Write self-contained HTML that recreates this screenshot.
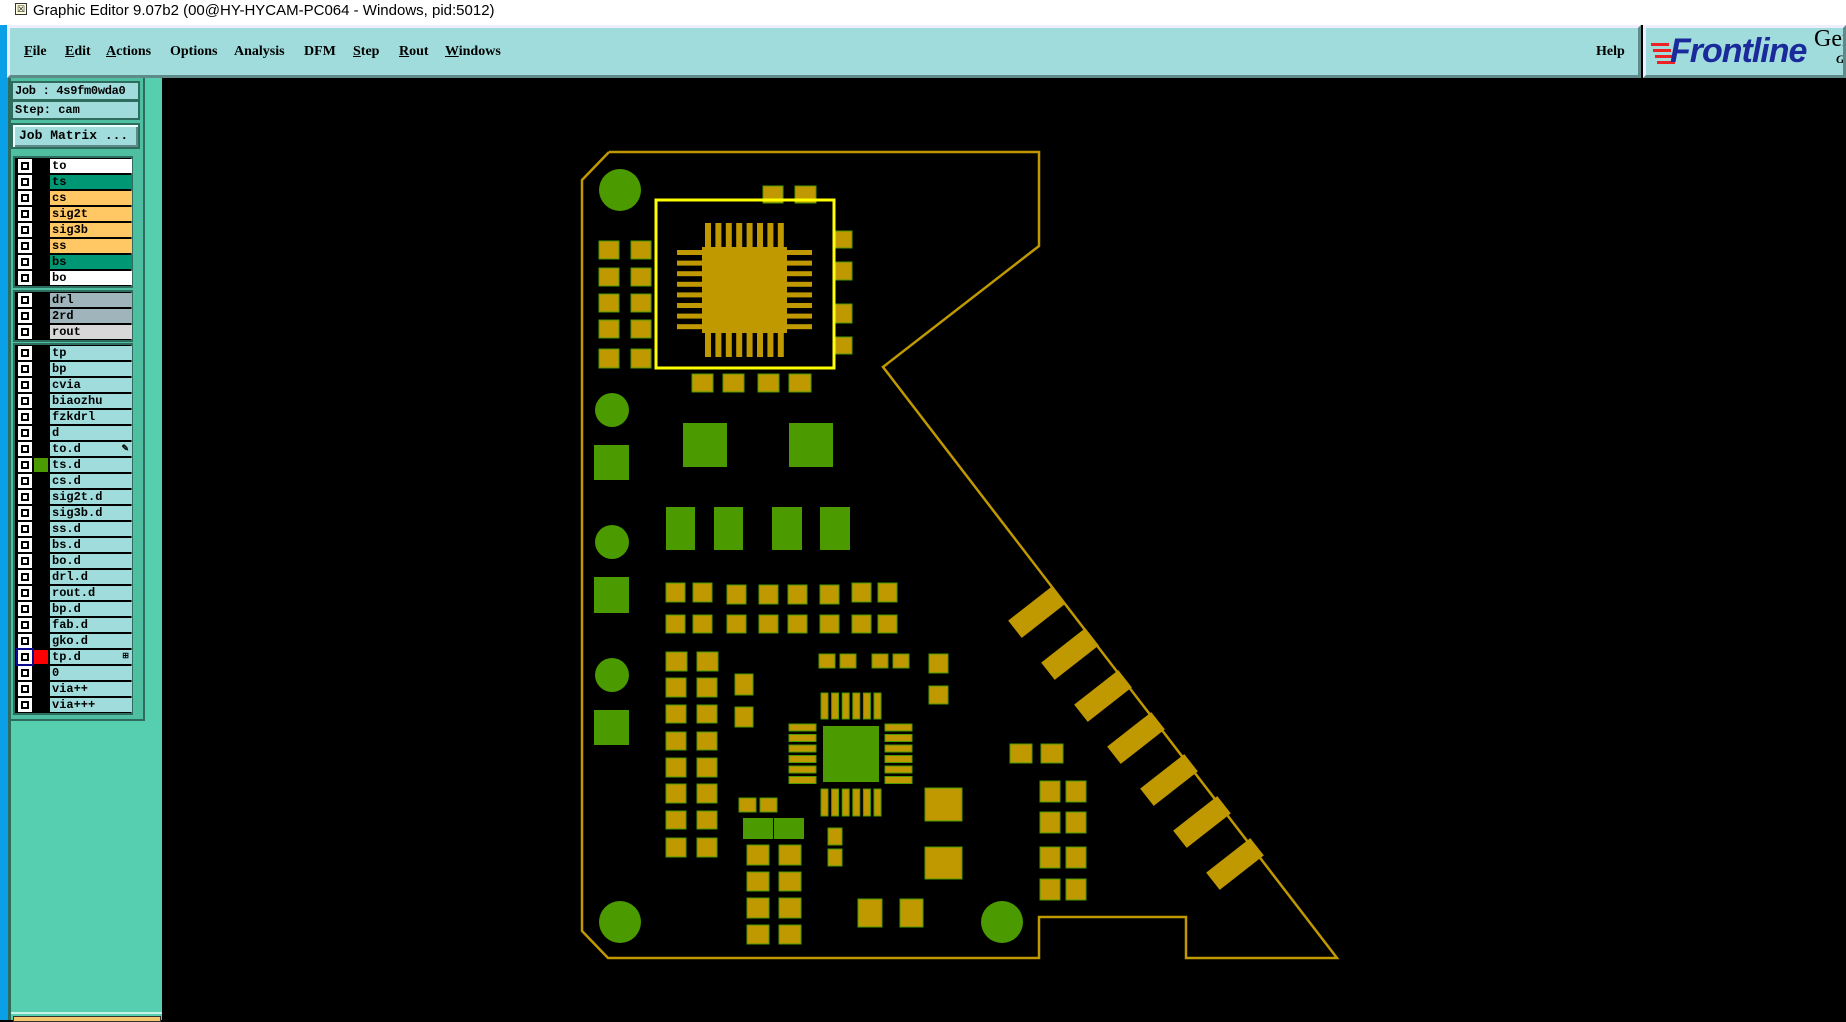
<!DOCTYPE html>
<html><head><meta charset="utf-8"><style>
*{margin:0;padding:0;box-sizing:border-box}
body{width:1846px;height:1020px;overflow:hidden;background:#000;position:relative;font-family:"Liberation Sans",sans-serif}
.abs{position:absolute}
#title{left:0;top:0;width:1846px;height:25px;background:#fff}
#title span{position:absolute;left:33px;top:2px;font-size:15px;color:#000}
#menu{left:7px;top:25px;width:1634px;height:53px;background:#a0dcdc;border:3px solid #5f8a8a;border-top-color:#eef;border-left-color:#eef}
#menu span{position:absolute;top:16px;font:bold 14px "Liberation Serif",serif;color:#000}
#menu u{text-decoration:underline}
#logo{left:1643px;top:25px;width:203px;height:53px;background:#a0dcdc;border:3px solid #5f8a8a;border-top-color:#eef;border-left-color:#eef;overflow:hidden}
#blue{left:0;top:25px;width:8px;height:995px;background:#0aa0e8}
#lp{left:8px;top:78px;width:154px;height:942px;background:#55cfb0;border-left:3px solid #2e6d5e}
.box{position:absolute;background:#a0dcdc;border:2px solid #2e6d5e;font:bold 12px "Liberation Mono",monospace;color:#000;padding-left:2px;line-height:16px;white-space:nowrap;overflow:hidden}
.list{position:absolute;left:13px;width:120px;background:#000;border:2px solid #2e6d5e}
.row{position:relative;height:16px}
.cb{position:absolute;left:3px;top:1px;width:14px;height:14px;background:#fff}
.cb:after{content:"";position:absolute;left:3px;top:3px;width:8px;height:8px;background:#000}
.cb:before{content:"";position:absolute;left:5px;top:5px;width:4px;height:4px;background:#fff;z-index:1}
.lb{position:absolute;left:35px;top:1px;width:82px;height:14px;font:bold 12px "Liberation Mono",monospace;line-height:14px;padding-left:2px;color:#000}
.sw{position:absolute;left:19px;top:1px;width:14px;height:14px}
</style></head><body>
<div id="title" class="abs"><div style="position:absolute;left:15px;top:3px;width:12px;height:12px;border:1px solid #333;background:#ffd;font-size:9px;line-height:10px;text-align:center">☒</div><span>Graphic Editor 9.07b2 (00@HY-HYCAM-PC064 - Windows, pid:5012)</span></div>
<div id="blue" class="abs"></div>
<div id="menu" class="abs">
<span style="left:14px"><u>F</u>ile</span><span style="left:55px"><u>E</u>dit</span><span style="left:96px"><u>A</u>ctions</span><span style="left:160px">Options</span><span style="left:224px">Analysis</span><span style="left:294px">DFM</span><span style="left:343px"><u>S</u>tep</span><span style="left:389px"><u>R</u>out</span><span style="left:435px"><u>W</u>indows</span><span style="left:1586px">Help</span>
</div>
<div id="logo" class="abs">
<div style="position:absolute;left:5px;top:15px;width:18px;height:3px;background:#e22;box-shadow:2px 6px 0 #e22,4px 12px 0 #e22,6px 18px 0 #e22"></div>
<span style="position:absolute;left:24px;top:4px;font:italic bold 34px 'Liberation Sans',sans-serif;color:#1a2a9a;letter-spacing:-1px">Frontline</span>
<span style="position:absolute;left:168px;top:-2px;font:24px 'Liberation Serif',serif;color:#000">Ger</span>
<span style="position:absolute;left:190px;top:24px;font:italic bold 12px 'Liberation Serif',serif;color:#000">G.</span>
</div>
<div id="lp" class="abs">
<div style="position:absolute;left:0;top:0;width:134px;height:643px;background:#4fbfa2;border-right:2px solid #2e6d5e;border-bottom:2px solid #2e6d5e"></div>
<div class="box" style="left:0;top:3px;width:129px;height:20px;letter-spacing:-0.3px">Job : 4s9fm0wda0</div>
<div class="box" style="left:0;top:22px;width:129px;height:20px">Step: cam</div>
<div class="box" style="left:0;top:45px;width:129px;height:26px;box-shadow:inset 2px 2px 0 #eff,inset -2px -2px 0 #5f8a8a;line-height:21px;padding-left:6px;font-size:13px">Job Matrix ...</div>
<div style="position:absolute;left:0;top:934px;width:151px;height:2px;background:#c8f0e4"></div>
<div style="position:absolute;left:2px;top:938px;width:148px;height:6px;background:#f2c66a;border:1px solid #333"></div>
</div>
<div class="list" style="top:156px;height:132px">
<div class="row"><div class="cb"></div><div class="lb" style="background:#fff">to</div></div>
<div class="row"><div class="cb"></div><div class="lb" style="background:#009874">ts</div></div>
<div class="row"><div class="cb"></div><div class="lb" style="background:#ffc864">cs</div></div>
<div class="row"><div class="cb"></div><div class="lb" style="background:#ffc864">sig2t</div></div>
<div class="row"><div class="cb"></div><div class="lb" style="background:#ffc864">sig3b</div></div>
<div class="row"><div class="cb"></div><div class="lb" style="background:#ffc864">ss</div></div>
<div class="row"><div class="cb"></div><div class="lb" style="background:#009874">bs</div></div>
<div class="row"><div class="cb"></div><div class="lb" style="background:#fff">bo</div></div>
</div>
<div class="list" style="top:290px;height:52px">
<div class="row"><div class="cb"></div><div class="lb" style="background:#a0b4bc">drl</div></div>
<div class="row"><div class="cb"></div><div class="lb" style="background:#a0b4bc">2rd</div></div>
<div class="row"><div class="cb"></div><div class="lb" style="background:#d8d8d8">rout</div></div>
</div>
<div class="list" style="top:343px;height:372px">
<div class="row"><div class="cb"></div><div class="lb" style="background:#a0dcdc">tp</div></div>
<div class="row"><div class="cb"></div><div class="lb" style="background:#a0dcdc">bp</div></div>
<div class="row"><div class="cb"></div><div class="lb" style="background:#a0dcdc">cvia</div></div>
<div class="row"><div class="cb"></div><div class="lb" style="background:#a0dcdc">biaozhu</div></div>
<div class="row"><div class="cb"></div><div class="lb" style="background:#a0dcdc">fzkdrl</div></div>
<div class="row"><div class="cb"></div><div class="lb" style="background:#a0dcdc">d</div></div>
<div class="row"><div class="cb"></div><div class="lb" style="background:#a0dcdc">to.d<span style="position:absolute;right:3px;font-size:9px">✎</span></div></div>
<div class="row"><div class="cb"></div><div class="sw" style="background:#4a9a00"></div><div class="lb" style="background:#a0dcdc">ts.d</div></div>
<div class="row"><div class="cb"></div><div class="lb" style="background:#a0dcdc">cs.d</div></div>
<div class="row"><div class="cb"></div><div class="lb" style="background:#a0dcdc">sig2t.d</div></div>
<div class="row"><div class="cb"></div><div class="lb" style="background:#a0dcdc">sig3b.d</div></div>
<div class="row"><div class="cb"></div><div class="lb" style="background:#a0dcdc">ss.d</div></div>
<div class="row"><div class="cb"></div><div class="lb" style="background:#a0dcdc">bs.d</div></div>
<div class="row"><div class="cb"></div><div class="lb" style="background:#a0dcdc">bo.d</div></div>
<div class="row"><div class="cb"></div><div class="lb" style="background:#a0dcdc">drl.d</div></div>
<div class="row"><div class="cb"></div><div class="lb" style="background:#a0dcdc">rout.d</div></div>
<div class="row"><div class="cb"></div><div class="lb" style="background:#a0dcdc">bp.d</div></div>
<div class="row"><div class="cb"></div><div class="lb" style="background:#a0dcdc">fab.d</div></div>
<div class="row"><div class="cb"></div><div class="lb" style="background:#a0dcdc">gko.d</div></div>
<div class="row"><div class="cb" style="outline:2px solid #0a0a90"></div><div class="sw" style="background:#f00"></div><div class="lb" style="background:#a0dcdc">tp.d<span style="position:absolute;right:3px;font-size:8px">⊞</span></div></div>
<div class="row"><div class="cb"></div><div class="lb" style="background:#a0dcdc">0</div></div>
<div class="row"><div class="cb"></div><div class="lb" style="background:#a0dcdc">via++</div></div>
<div class="row"><div class="cb"></div><div class="lb" style="background:#a0dcdc">via+++</div></div>
</div>

<svg class="abs" style="left:0;top:0" width="1846" height="1020" viewBox="0 0 1846 1020">
<g fill="none" stroke="#c09800" stroke-width="2.5">
<polyline points="609,152 1039,152 1039,246 883,367 1337,958 1186,958 1186,917 1039,917 1039,958 608,958 582,931 582,180 609,152"/>
</g>
<g fill="#4a9a00">
<circle cx="620" cy="190" r="21"/><circle cx="612" cy="410" r="17"/><circle cx="612" cy="542" r="17"/><circle cx="612" cy="675" r="17"/>
<circle cx="620" cy="922" r="21"/><circle cx="1002" cy="922" r="21"/>
<rect x="594" y="445" width="35" height="35"/><rect x="594" y="577" width="35" height="36"/><rect x="594" y="710" width="35" height="35"/>
<rect x="683" y="423" width="44" height="44"/><rect x="789" y="423" width="44" height="44"/>
<rect x="666" y="507" width="29" height="43"/><rect x="714" y="507" width="29" height="43"/><rect x="772" y="507" width="30" height="43"/><rect x="820" y="507" width="30" height="43"/>
<rect x="823" y="726" width="56" height="56"/>
<rect x="743" y="818" width="30" height="21"/><rect x="774" y="818" width="30" height="21"/>
</g>
<g fill="#c09800">
<rect x="702" y="247" width="85" height="86"/>
<rect x="705" y="223" width="6" height="24"/><rect x="715.4" y="223" width="6" height="24"/><rect x="725.8" y="223" width="6" height="24"/><rect x="736.2" y="223" width="6" height="24"/><rect x="746.6" y="223" width="6" height="24"/><rect x="757" y="223" width="6" height="24"/><rect x="767.4" y="223" width="6" height="24"/><rect x="777.8" y="223" width="6" height="24"/>
<rect x="705" y="333" width="6" height="24"/><rect x="715.4" y="333" width="6" height="24"/><rect x="725.8" y="333" width="6" height="24"/><rect x="736.2" y="333" width="6" height="24"/><rect x="746.6" y="333" width="6" height="24"/><rect x="757" y="333" width="6" height="24"/><rect x="767.4" y="333" width="6" height="24"/><rect x="777.8" y="333" width="6" height="24"/>
<rect x="677" y="250" width="25" height="5"/><rect x="677" y="260.6" width="25" height="5"/><rect x="677" y="271.2" width="25" height="5"/><rect x="677" y="281.8" width="25" height="5"/><rect x="677" y="292.4" width="25" height="5"/><rect x="677" y="303" width="25" height="5"/><rect x="677" y="313.6" width="25" height="5"/><rect x="677" y="324.2" width="25" height="5"/>
<rect x="787" y="250" width="25" height="5"/><rect x="787" y="260.6" width="25" height="5"/><rect x="787" y="271.2" width="25" height="5"/><rect x="787" y="281.8" width="25" height="5"/><rect x="787" y="292.4" width="25" height="5"/><rect x="787" y="303" width="25" height="5"/><rect x="787" y="313.6" width="25" height="5"/><rect x="787" y="324.2" width="25" height="5"/>
</g>
<g fill="#c09800" stroke="#4a9a00" stroke-width="1">
<rect x="599" y="241" width="20" height="18"/><rect x="631" y="241" width="20" height="18"/>
<rect x="599" y="268" width="20" height="18"/><rect x="631" y="268" width="20" height="18"/>
<rect x="599" y="294" width="20" height="18"/><rect x="631" y="294" width="20" height="18"/>
<rect x="599" y="320" width="20" height="18"/><rect x="631" y="320" width="20" height="18"/>
<rect x="599" y="349" width="20" height="19"/><rect x="631" y="349" width="20" height="19"/>
<rect x="763" y="186" width="20" height="17"/><rect x="795" y="186" width="21" height="17"/>
<rect x="835" y="231" width="17" height="17"/><rect x="835" y="262" width="17" height="18"/><rect x="835" y="304" width="17" height="19"/><rect x="835" y="337" width="17" height="17"/>
<rect x="692" y="374" width="21" height="18"/><rect x="723" y="374" width="21" height="18"/><rect x="758" y="374" width="21" height="18"/><rect x="789" y="374" width="22" height="18"/>
<rect x="666" y="583" width="19" height="19"/><rect x="693" y="583" width="19" height="19"/><rect x="727" y="585" width="19" height="19"/><rect x="759" y="585" width="19" height="19"/><rect x="788" y="585" width="19" height="19"/><rect x="820" y="585" width="19" height="19"/><rect x="852" y="583" width="19" height="19"/><rect x="878" y="583" width="19" height="19"/>
<rect x="666" y="615" width="19" height="18"/><rect x="693" y="615" width="19" height="18"/><rect x="727" y="615" width="19" height="18"/><rect x="759" y="615" width="19" height="18"/><rect x="788" y="615" width="19" height="18"/><rect x="820" y="615" width="19" height="18"/><rect x="852" y="615" width="19" height="18"/><rect x="878" y="615" width="19" height="18"/>
<rect x="666" y="652" width="21" height="19"/><rect x="697" y="652" width="21" height="19"/>
<rect x="666" y="678" width="20" height="19"/><rect x="697" y="678" width="20" height="19"/>
<rect x="666" y="705" width="20" height="18"/><rect x="697" y="705" width="20" height="18"/>
<rect x="666" y="732" width="20" height="18"/><rect x="697" y="732" width="20" height="18"/>
<rect x="666" y="758" width="20" height="19"/><rect x="697" y="758" width="20" height="19"/>
<rect x="666" y="784" width="20" height="19"/><rect x="697" y="784" width="20" height="19"/>
<rect x="666" y="811" width="20" height="18"/><rect x="697" y="811" width="20" height="18"/>
<rect x="666" y="838" width="20" height="19"/><rect x="697" y="838" width="20" height="19"/>
<rect x="735" y="674" width="18" height="21"/><rect x="735" y="707" width="18" height="20"/>
<rect x="819" y="654" width="16" height="14"/><rect x="840" y="654" width="16" height="14"/><rect x="872" y="654" width="16" height="14"/><rect x="893" y="654" width="16" height="14"/>
<rect x="929" y="654" width="19" height="19"/><rect x="929" y="686" width="19" height="18"/>
<rect x="821" y="693" width="7" height="26"/><rect x="831.6" y="693" width="7" height="26"/><rect x="842.2" y="693" width="7" height="26"/><rect x="852.8" y="693" width="7" height="26"/><rect x="863.4" y="693" width="7" height="26"/><rect x="874" y="693" width="7" height="26"/>
<rect x="821" y="789" width="7" height="27"/><rect x="831.6" y="789" width="7" height="27"/><rect x="842.2" y="789" width="7" height="27"/><rect x="852.8" y="789" width="7" height="27"/><rect x="863.4" y="789" width="7" height="27"/><rect x="874" y="789" width="7" height="27"/>
<rect x="789" y="724" width="27" height="7"/><rect x="789" y="734.5" width="27" height="7"/><rect x="789" y="745" width="27" height="7"/><rect x="789" y="755.5" width="27" height="7"/><rect x="789" y="766" width="27" height="7"/><rect x="789" y="776.5" width="27" height="7"/>
<rect x="885" y="724" width="27" height="7"/><rect x="885" y="734.5" width="27" height="7"/><rect x="885" y="745" width="27" height="7"/><rect x="885" y="755.5" width="27" height="7"/><rect x="885" y="766" width="27" height="7"/><rect x="885" y="776.5" width="27" height="7"/>
<rect x="739" y="798" width="17" height="14"/><rect x="760" y="798" width="17" height="14"/>
<rect x="747" y="845" width="22" height="20"/><rect x="779" y="845" width="22" height="20"/>
<rect x="747" y="872" width="22" height="19"/><rect x="779" y="872" width="22" height="19"/>
<rect x="747" y="898" width="22" height="20"/><rect x="779" y="898" width="22" height="20"/>
<rect x="747" y="925" width="22" height="19"/><rect x="779" y="925" width="22" height="19"/>
<rect x="828" y="828" width="14" height="17"/><rect x="828" y="849" width="14" height="17"/>
<rect x="925" y="788" width="37" height="33"/><rect x="925" y="847" width="37" height="32"/>
<rect x="858" y="899" width="24" height="28"/><rect x="900" y="899" width="23" height="28"/>
<rect x="1010" y="744" width="22" height="19"/><rect x="1041" y="744" width="22" height="19"/>
<rect x="1040" y="781" width="20" height="21"/><rect x="1066" y="781" width="20" height="21"/>
<rect x="1040" y="812" width="20" height="21"/><rect x="1066" y="812" width="20" height="21"/>
<rect x="1040" y="847" width="20" height="21"/><rect x="1066" y="847" width="20" height="21"/>
<rect x="1040" y="879" width="20" height="21"/><rect x="1066" y="879" width="20" height="21"/>
</g>
<g fill="#c09800">
<rect x="-28" y="-11" width="56" height="22" transform="translate(1037,612) rotate(-38)"/>
<rect x="-28" y="-11" width="56" height="22" transform="translate(1070,654) rotate(-38)"/>
<rect x="-28" y="-11" width="56" height="22" transform="translate(1103,696) rotate(-38)"/>
<rect x="-28" y="-11" width="56" height="22" transform="translate(1136,738) rotate(-38)"/>
<rect x="-28" y="-11" width="56" height="22" transform="translate(1169,780) rotate(-38)"/>
<rect x="-28" y="-11" width="56" height="22" transform="translate(1202,822) rotate(-38)"/>
<rect x="-28" y="-11" width="56" height="22" transform="translate(1235,864) rotate(-38)"/>
</g>
<rect x="656" y="200" width="178" height="168" fill="none" stroke="#ffff00" stroke-width="3"/>
</svg>
</body></html>
